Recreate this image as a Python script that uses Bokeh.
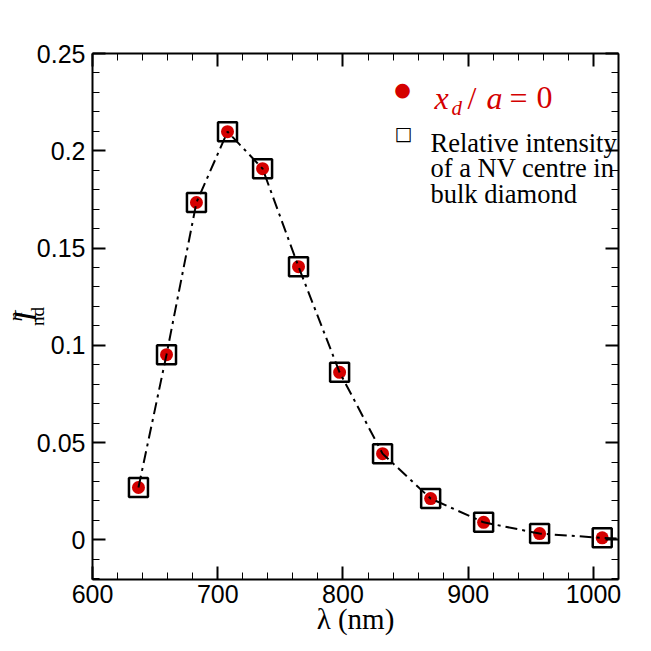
from bokeh.plotting import figure
from bokeh.models import (ColumnDataSource, LinearAxis, SingleIntervalTicker, FixedTicker,
                          NumeralTickFormatter, Label, Range1d)
from bokeh.embed import file_html
from bokeh.resources import INLINE

# values
wavelength = [636.7, 659.1, 683.0, 707.8, 735.8, 764.5, 797.3, 831.6, 870.0, 912.3, 957.0, 1007.0]
intensity = [0.0269, 0.0952, 0.1734, 0.2098, 0.1908, 0.1404, 0.0861, 0.0443, 0.0212, 0.0090, 0.0032, 0.0010]
# dash-dot curve runs on to the right edge of the frame
curve_wavelength = wavelength + [1020.0]
curve_intensity = intensity + [0.0006]

RED = "#d40000"
SERIF = "Liberation Serif"
SANS = "Liberation Sans"

src = ColumnDataSource(data=dict(wl=wavelength, I=intensity))
curve = ColumnDataSource(data=dict(wl=curve_wavelength, I=curve_intensity))

p = figure(frame_width=526, frame_height=526,
           min_border_left=92, min_border_right=27, min_border_top=53, min_border_bottom=66,
           x_range=Range1d(600, 1020), y_range=Range1d(-0.0204, 0.25),
           output_backend="svg", toolbar_location=None, tools="")
p.xgrid.grid_line_color = None
p.ygrid.grid_line_color = None
p.outline_line_color = None
p.background_fill_color = "white"
p.border_fill_color = "white"

p.scatter('wl', 'I', source=src, marker="square", size=19, fill_color=None,
          line_color="black", line_width=2.5)
p.scatter('wl', 'I', source=src, marker="circle", size=13, fill_color=RED,
          line_color=RED, line_width=0)
p.line('wl', 'I', source=curve, line_color="black", line_width=2, line_dash="12 5 3 5")

xt = SingleIntervalTicker(interval=100, num_minor_ticks=5)
yt = SingleIntervalTicker(interval=0.05, num_minor_ticks=5)


def style(ax, labels=True):
    ax.axis_line_width = 2
    ax.axis_line_color = "black"
    ax.major_tick_in = 13
    ax.major_tick_out = 0
    ax.minor_tick_in = 7
    ax.minor_tick_out = 0
    ax.major_tick_line_width = 2
    ax.minor_tick_line_width = 1
    ax.major_tick_line_color = "black"
    ax.minor_tick_line_color = "black"
    if labels:
        ax.major_label_text_font = SANS
        ax.major_label_text_font_size = "25px"
        ax.major_label_text_color = "black"
    else:
        ax.major_label_text_color = None


xa = p.xaxis[0]
xa.ticker = xt
style(xa)
xa.major_label_standoff = 5
xa.axis_label = "λ (nm)"
xa.axis_label_text_font = SERIF
xa.axis_label_text_font_style = "normal"
xa.axis_label_text_font_size = "29px"
xa.axis_label_text_color = "black"
xa.axis_label_standoff = -3

ya = p.yaxis[0]
ya.ticker = yt
ya.formatter = NumeralTickFormatter(format="0.[00]")
style(ya)
ya.major_label_standoff = 7

top = LinearAxis(ticker=xt)
style(top, labels=False)
p.add_layout(top, "above")
right = LinearAxis(ticker=yt)
style(right, labels=False)
p.add_layout(right, "right")

# y axis title  I^n_nd : three bare axes on the left, one per piece of text,
# each label centred on its axis bounds and pulled in with a negative standoff
for txt, size, st, bounds, standoff in [("nd", "19px", "normal", (0.1174, 0.1194), -14),
                                        ("I", "32px", "italic", (0.1106, 0.1126), -19),
                                        ("n", "19px", "italic", (0.1199, 0.1219), -22)]:
    ax = LinearAxis(ticker=FixedTicker(ticks=[], minor_ticks=[]), bounds=bounds)
    ax.axis_line_color = None
    ax.major_tick_out = 0
    ax.minor_tick_out = 0
    ax.major_tick_in = 0
    ax.minor_tick_in = 0
    ax.axis_label = txt
    ax.axis_label_text_font = SERIF
    ax.axis_label_text_font_style = st
    ax.axis_label_text_font_size = size
    ax.axis_label_text_color = "black"
    ax.axis_label_standoff = standoff
    p.add_layout(ax, "left")

# legend
p.add_layout(Label(x=310, y=491, x_units="screen", y_units="screen", text="●",
                   text_align="center", text_baseline="middle", text_font="DejaVu Sans",
                   text_font_size="19px", text_color=RED))
for txt, fx, fy, size, st in [("x", 342, 482, "32px", "italic"),
                              ("d", 359, 472, "21px", "italic"),
                              ("/", 375, 482, "32px", "normal"),
                              ("a", 394, 482, "32px", "italic"),
                              ("=", 417, 482, "32px", "normal"),
                              ("0", 444, 482, "32px", "normal")]:
    p.add_layout(Label(x=fx, y=fy, x_units="screen", y_units="screen", text=txt,
                       text_baseline="alphabetic", text_font=SERIF, text_font_style=st,
                       text_font_size=size, text_color=RED))

p.add_layout(Label(x=311, y=447, x_units="screen", y_units="screen", text="□",
                   text_align="center", text_baseline="middle", text_font="DejaVu Sans",
                   text_font_size="19px", text_color="black"))
for i, line in enumerate(["Relative intensity", "of a NV centre in", "bulk diamond"]):
    p.add_layout(Label(x=338, y=437 - 25.5 * i, x_units="screen", y_units="screen",
                       text=line, text_baseline="alphabetic", text_font=SERIF,
                       text_font_size="26.5px", text_color="black"))

open("out.html", "w").write(file_html(p, INLINE))
